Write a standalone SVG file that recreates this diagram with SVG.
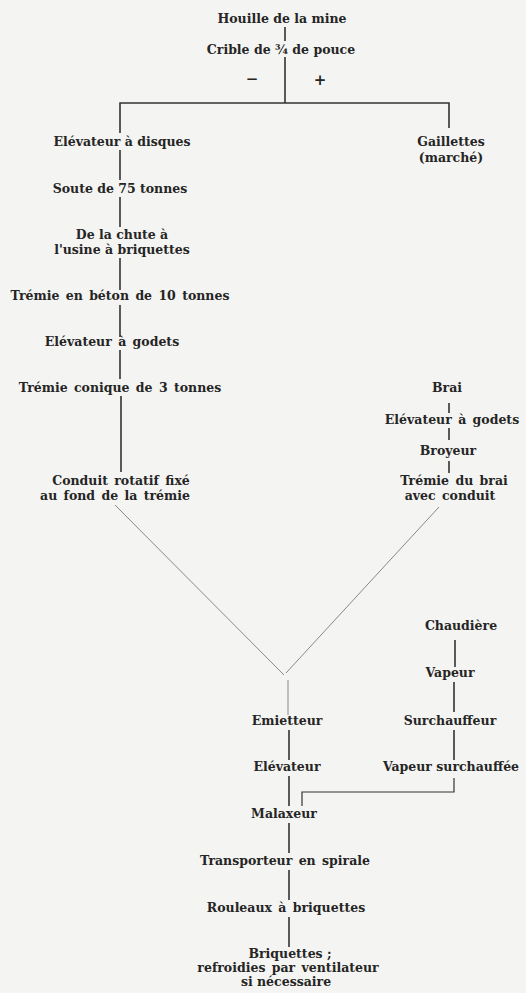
<svg xmlns="http://www.w3.org/2000/svg" width="526" height="993" viewBox="0 0 526 993">
<style>
text{font-family:"DejaVu Serif","Liberation Serif",serif;font-size:12.5px;font-weight:bold;fill:#252525;text-anchor:middle}
.c line,.c polyline{stroke:#333;stroke-width:1.6;fill:none}
.c .thin{stroke:#888;stroke-width:1}
</style>
<rect width="526" height="993" fill="#f4f4f2"/>
<g class="c" id="connectors">
<line x1="285" y1="27" x2="285" y2="41"/>
<line x1="285" y1="57" x2="285" y2="103"/>
<polyline points="120,133 120,103 449,103 449,128"/>
<line x1="120" y1="150" x2="120" y2="180"/>
<line x1="120" y1="197" x2="120" y2="227"/>
<line x1="120" y1="258" x2="120" y2="290"/>
<line x1="120" y1="305" x2="120" y2="337"/>
<line x1="120" y1="350" x2="120" y2="379"/>
<line x1="121" y1="396" x2="121" y2="472"/>
<line x1="449" y1="403" x2="449" y2="413"/>
<line x1="449" y1="428" x2="449" y2="440"/>
<line x1="449" y1="461" x2="449" y2="473"/>
<line class="thin" x1="115" y1="505" x2="284" y2="675"/>
<line class="thin" x1="439" y1="507" x2="286" y2="673"/>
<line class="thin" x1="288" y1="680" x2="288" y2="715"/>
<line x1="289" y1="730" x2="289" y2="760"/>
<line x1="289" y1="776" x2="289" y2="806"/>
<line x1="455" y1="640" x2="455" y2="667"/>
<line x1="454" y1="682" x2="454" y2="712"/>
<line x1="454" y1="730" x2="454" y2="760"/>
<polyline points="454,778 454,792 302,792 302,806" style="stroke-width:1.2"/>
<line x1="289" y1="823" x2="289" y2="853"/>
<line x1="289" y1="870" x2="289" y2="900"/>
<line x1="289" y1="917" x2="289" y2="947"/>
</g>
<g id="houille"><text x="282" y="23">Houille de la mine</text></g>
<g id="crible"><text x="281" y="54">Crible de ¾ de pouce</text></g>
<g id="moins"><text x="252" y="84" style="font-size:15px">−</text></g>
<g id="plus"><text x="320" y="85" style="font-size:15px">+</text></g>
<g id="elevateur-disques"><text x="122" y="146">Elévateur à disques</text></g>
<g id="gaillettes"><text x="451" y="146">Gaillettes</text><text x="451" y="162">(marché)</text></g>
<g id="soute"><text x="120" y="193">Soute de 75 tonnes</text></g>
<g id="chute"><text x="122" y="239">De la chute à</text><text x="122" y="254">l'usine à briquettes</text></g>
<g id="tremie-beton"><text x="120" y="300" style="word-spacing:2px">Trémie en béton de 10 tonnes</text></g>
<g id="elevateur-godets"><text x="112" y="346" style="word-spacing:2px">Elévateur à godets</text></g>
<g id="tremie-conique"><text x="120" y="392" style="word-spacing:2px">Trémie conique de 3 tonnes</text></g>
<g id="conduit"><text x="121" y="485" style="word-spacing:2px">Conduit rotatif fixé</text><text x="115" y="500" style="word-spacing:2px">au fond de la trémie</text></g>
<g id="brai"><text x="447" y="392">Brai</text></g>
<g id="elevateur-godets-2"><text x="452" y="424" style="word-spacing:2px">Elévateur à godets</text></g>
<g id="broyeur"><text x="448" y="455">Broyeur</text></g>
<g id="tremie-brai"><text x="454" y="485" style="word-spacing:2px">Trémie du brai</text><text x="450" y="500" style="word-spacing:2px">avec conduit</text></g>
<g id="chaudiere"><text x="461" y="630">Chaudière</text></g>
<g id="vapeur"><text x="450" y="677">Vapeur</text></g>
<g id="surchauffeur"><text x="450" y="725">Surchauffeur</text></g>
<g id="vapeur-surchauffee"><text x="451" y="771">Vapeur surchauffée</text></g>
<g id="emietteur"><text x="287" y="725">Emietteur</text></g>
<g id="elevateur"><text x="287" y="771">Elévateur</text></g>
<g id="malaxeur"><text x="284" y="818">Malaxeur</text></g>
<g id="transporteur"><text x="285" y="865" style="word-spacing:2px">Transporteur en spirale</text></g>
<g id="rouleaux"><text x="286" y="912" style="word-spacing:2px">Rouleaux à briquettes</text></g>
<g id="briquettes"><text x="290" y="958">Briquettes ;</text><text x="288" y="972" style="word-spacing:2px">refroidies par ventilateur</text><text x="286" y="986">si nécessaire</text></g>
</svg>
